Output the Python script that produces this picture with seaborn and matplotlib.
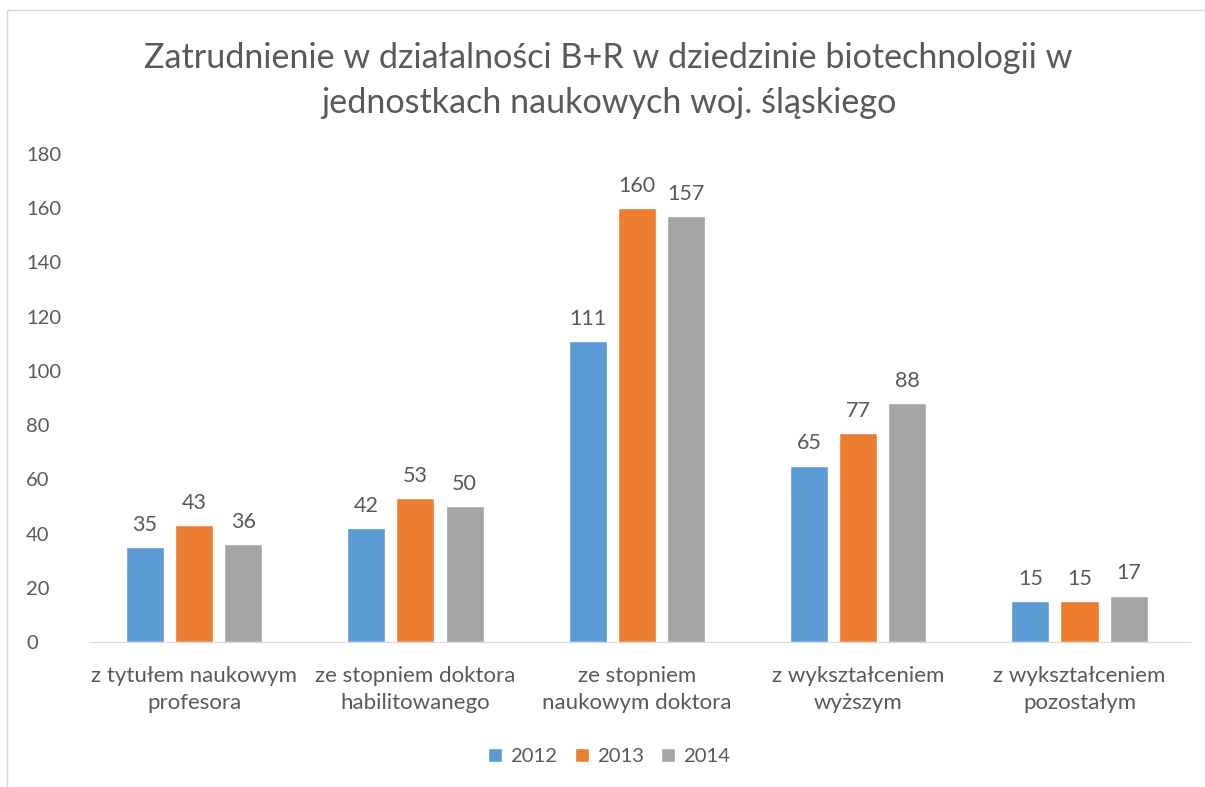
import matplotlib
matplotlib.use("Agg")
import matplotlib.pyplot as plt
import seaborn as sns
import pandas as pd
from matplotlib.patches import Rectangle

categories = [
    "z tytułem naukowym\nprofesora",
    "ze stopniem doktora\nhabilitowanego",
    "ze stopniem\nnaukowym doktora",
    "z wykształceniem\nwyższym",
    "z wykształceniem\npozostałym",
]
years = ["2012", "2013", "2014"]
values_2012 = [35, 42, 111, 65, 15]
values_2013 = [43, 53, 160, 77, 15]
values_2014 = [36, 50, 157, 88, 17]
colors = ["#5B9BD5", "#ED7D31", "#A5A5A5"]

df = pd.DataFrame({
    "category": categories * 3,
    "year": [y for y in years for _ in categories],
    "value": values_2012 + values_2013 + values_2014,
})

sns.set_style("white")
plt.rcParams["font.family"] = ["Lato", "DejaVu Sans"]
text_color = "#595959"

fig = plt.figure(figsize=(12.05, 7.87), dpi=100)
ax = fig.add_axes([0.0747, 0.1843, 0.913, 0.62])

sns.barplot(data=df, x="category", y="value", hue="year", palette=colors,
            width=0.666, gap=0.225, saturation=1, ax=ax, legend=True)

for container in ax.containers:
    ax.bar_label(container, padding=9, fontsize=15.5, color=text_color)

ax.set_ylim(0, 180)
ax.set_yticks(range(0, 181, 20))
ax.set_xlim(-0.47, 4.5)
ax.set_xlabel("")
ax.set_ylabel("")
ax.tick_params(axis="both", length=0, labelcolor=text_color)
ax.tick_params(axis="x", pad=17, labelsize=16)
ax.tick_params(axis="y", pad=46, labelsize=14.5)
for lbl in ax.get_yticklabels():
    lbl.set_horizontalalignment("left")
for lbl in ax.get_xticklabels():
    lbl.set_linespacing(1.45)
for side in ["top", "right", "left"]:
    ax.spines[side].set_visible(False)
ax.spines["bottom"].set_color("#D9D9D9")

ax.legend(loc="upper center", bbox_to_anchor=(0.472, -0.18), ncol=3, frameon=False,
          fontsize=14.6, labelcolor=text_color, handlelength=0.7, handleheight=0.7,
          handletextpad=0.4, columnspacing=0.85)

fig.text(0.505, 0.898, "Zatrudnienie w działalności B+R w dziedzinie biotechnologii w\njednostkach naukowych woj. śląskiego",
         ha="center", va="center", fontsize=24.6, color=text_color, linespacing=1.5)

# chart-area frame
fig.patches.append(Rectangle((7 / 1205, -0.01), 1.1, 1 - 10 / 787 + 0.01, transform=fig.transFigure,
                             fill=False, edgecolor="#D9D9D9", linewidth=1))

fig.savefig("out.png", dpi=100)
